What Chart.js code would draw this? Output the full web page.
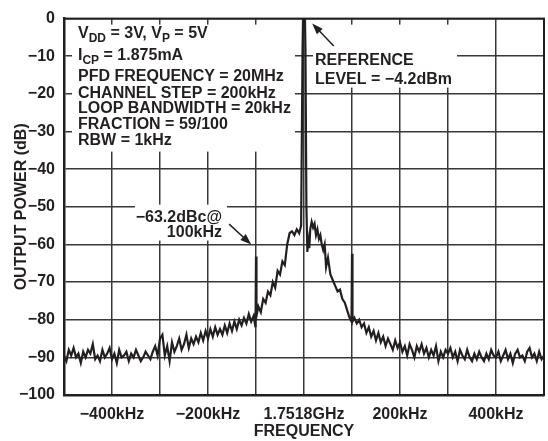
<!DOCTYPE html>
<html>
<head>
<meta charset="utf-8">
<script src="https://cdn.jsdelivr.net/npm/chart.js@4/dist/chart.umd.min.js"></script>
<style>
  html, body { margin: 0; padding: 0; background: #fff; }
  #wrap { width: 548px; height: 441px; }
</style>
</head>
<body>
<div id="wrap"><canvas id="myChart"></canvas></div>
<script>
// offset from carrier (kHz) and measured power relative to reference level (dB)
var freqKHz = [
  -500,-495,-490,-485,-480,-475,-470,-465,-460,-455,-450,-445,-440,-435,-430,-425,-420,-415,-410,-405,
  -400,-395,-390,-385,-380,-375,-370,-365,-360,-355,-350,-345,-340,-335,-330,-325,-320,-315,-310,-305,
  -300,-295,-290,-285,-280,-275,-270,-265,-260,-255,-250,-245,-240,-235,-230,-225,-220,-215,-210,-205,
  -200,-195,-190,-185,-180,-175,-170,-165,-160,-155,-150,-145,-140,-135,-130,-125,-120,-115,-110,-105,
  -101,-100,-99,-95,-90,-85,-80,-75,-70,-65,-60,-55,-50,-45,-40,-35,-30,-25,-20,-15,-10,-6,-3,-2,
  2,3,5,7,9,11,13,16,19,22,25,28,31,34,37,40,43,46,50,55,60,65,70,75,80,85,90,95,99,
  100,101,105,110,115,120,125,130,135,140,145,150,155,160,165,170,175,180,185,190,195,
  200,205,210,215,220,225,230,235,240,245,250,255,260,265,270,275,280,285,290,295,
  300,305,310,315,320,325,330,335,340,345,350,355,360,365,370,375,380,385,390,395,
  400,405,410,415,420,425,430,435,440,445,450,455,460,465,470,475,480,485,490,495,500
];
var powerDb = [
  -89.5,-91,-88,-89.5,-87.5,-90,-89,-91.5,-88.5,-90,-88,-89,-86.5,-90.5,-89.5,-91,-88,-90,-89,-87.5,
  -90.5,-89,-91.5,-88,-90,-89.5,-88.5,-91,-89,-90,-88,-89.5,-91,-90,-88.5,-89.5,-90.5,-88.5,-87,-89.5,
  -85,-84,-89.5,-87,-91,-86,-88.5,-87,-85,-88,-86.5,-84,-87.5,-85,-86.5,-84.5,-86,-83.5,-85.5,-83,
  -85,-82.5,-84.5,-82,-84,-82.5,-84,-81.5,-83.5,-81,-83,-80.5,-82.5,-80,-81.5,-79.5,-81,-78.5,-80.5,-79,
  -82,-63.2,-79,-76.5,-78,-74.5,-75.5,-72.5,-73.5,-70,-71.5,-67,-68,-64.5,-65.5,-60,-57,-56.5,-57.5,-56,-57,-55,-8,0,
  0,-8,-50,-62,-59,-61,-56,-54,-55.5,-54.5,-57.5,-56,-58.5,-57.5,-60,-61.5,-60,-66,-63.5,-68,-69.5,-71,-72.5,-72,-74.5,-75.5,-77.5,-79.5,-80.5,
  -62.5,-80.5,-79.5,-81,-80,-82,-81,-83.5,-82,-84.5,-83,-85.5,-83.5,-86,-84.5,-87,-85,-86.5,-88,-85.5,-87.5,
  -86,-88.5,-87,-89.5,-86.5,-88,-90,-87,-88.5,-86.5,-89,-87.5,-90,-88,-89.5,-87,-91,-88.5,-90,-88,
  -89,-87.5,-90,-88.5,-91,-88,-89.5,-90.5,-88,-90,-91,-89,-90.5,-88.5,-90,-91,-89,-90.5,-88,-89.5,
  -90,-88.5,-91,-89.5,-88,-90.5,-89,-91.5,-89,-88,-90,-89.5,-91,-88.5,-87.5,-90,-89,-91,-88.5,-90.5,-89.5
];

var xTickLabels = { '-400': '\u2212400kHz', '-200': '\u2212200kHz', '0': '1.7518GHz', '200': '200kHz', '400': '400kHz' };
var yTicks = [0, -10, -20, -30, -40, -50, -60, -70, -80, -90, -100];

// settings block, each line split into runs so subscripts can be drawn
var settingsLines = [
  [['V'], ['DD', 1], [' = 3V, V'], ['P', 1], [' = 5V']],
  [['I'], ['CP', 1], [' = 1.875mA']],
  [['PFD FREQUENCY = 20MHz']],
  [['CHANNEL STEP = 200kHz']],
  [['LOOP BANDWIDTH = 20kHz']],
  [['FRACTION = 59/100']],
  [['RBW = 1kHz']]
];
var refLabel = ['REFERENCE', 'LEVEL = \u22124.2dBm'];
var spurLabel = ['\u221263.2dBc@', '100kHz'];

// arrows in axis units: [fromKHz, fromDb, toKHz, toDb]
var refArrow = [62, -7.3, 17, -1.3];
var spurArrow = [-156, -54.6, -110, -60];

var ink = '#231f20';
var fontFam = '"Liberation Sans", Arial, Helvetica, sans-serif';

function arrow(ctx, x0, y0, x1, y1) {
  var a = Math.atan2(y1 - y0, x1 - x0);
  var len = 11, half = 4;
  ctx.beginPath();
  ctx.moveTo(x0, y0);
  ctx.lineTo(x1 - Math.cos(a) * len * 0.8, y1 - Math.sin(a) * len * 0.8);
  ctx.stroke();
  ctx.beginPath();
  ctx.moveTo(x1, y1);
  ctx.lineTo(x1 - Math.cos(a) * len + Math.sin(a) * half, y1 - Math.sin(a) * len - Math.cos(a) * half);
  ctx.lineTo(x1 - Math.cos(a) * len - Math.sin(a) * half, y1 - Math.sin(a) * len + Math.cos(a) * half);
  ctx.closePath();
  ctx.fill();
}

var notesPlugin = {
  id: 'notes',
  beforeDatasetsDraw: function(chart) {
    var ctx = chart.ctx, a = chart.chartArea;
    ctx.save();
    ctx.fillStyle = '#fff';
    // blank panels behind the text blocks
    ctx.fillRect(a.left + 8, a.top + 6, 223, 127);
    ctx.fillRect(a.left + 249, a.top + 6, 144, 63);
    ctx.fillRect(a.left + 71, a.top + 186, 92, 36);
    ctx.restore();
  },
  afterDatasetsDraw: function(chart) {
    var ctx = chart.ctx, a = chart.chartArea;
    var xs = chart.scales.x, ys = chart.scales.y;
    ctx.save();
    ctx.fillStyle = ink;
    ctx.strokeStyle = ink;
    ctx.textBaseline = 'alphabetic';
    var baselines = [19, 41, 62, 79, 94, 110, 126];
    settingsLines.forEach(function(runs, i) {
      var x = a.left + 14;
      runs.forEach(function(r) {
        ctx.font = 'bold ' + (r[1] ? 12 : 16) + 'px ' + fontFam;
        ctx.textAlign = 'left';
        ctx.fillText(r[0], x, a.top + baselines[i] + (r[1] ? 4 : 0));
        x += ctx.measureText(r[0]).width;
      });
    });
    ctx.font = 'bold 16px ' + fontFam;
    ctx.textAlign = 'left';
    ctx.fillText(refLabel[0], a.left + 251, a.top + 46);
    ctx.fillText(refLabel[1], a.left + 251, a.top + 65);
    ctx.textAlign = 'right';
    ctx.fillText(spurLabel[0], a.left + 158, a.top + 203);
    ctx.fillText(spurLabel[1], a.left + 158, a.top + 218);
    ctx.lineWidth = 1.5;
    arrow(ctx, xs.getPixelForValue(refArrow[0]), ys.getPixelForValue(refArrow[1]),
      xs.getPixelForValue(refArrow[2]), ys.getPixelForValue(refArrow[3]));
    arrow(ctx, xs.getPixelForValue(spurArrow[0]), ys.getPixelForValue(spurArrow[1]),
      xs.getPixelForValue(spurArrow[2]), ys.getPixelForValue(spurArrow[3]));
    ctx.restore();
  }
};

var points = freqKHz.map(function(f, i) { return { x: f, y: powerDb[i] }; });

Chart.defaults.font.family = fontFam;
Chart.defaults.font.weight = 'bold';
Chart.defaults.color = ink;

new Chart(document.getElementById('myChart'), {
  type: 'line',
  data: {
    datasets: [{
      data: points,
      borderColor: ink,
      borderWidth: 2.2,
      pointRadius: 0,
      tension: 0
    }]
  },
  options: {
    responsive: true,
    maintainAspectRatio: false,
    animation: false,
    events: [],
    layout: { padding: { top: 14, right: 4, left: 0, bottom: 0 } },
    plugins: { legend: { display: false }, tooltip: { enabled: false } },
    scales: {
      x: {
        type: 'linear',
        min: -500,
        max: 500,
        afterFit: function(s) { s.height = 46; s.paddingLeft = 0; s.paddingRight = 0; },
        afterBuildTicks: function(s) {
          s.ticks = [];
          for (var v = -500; v <= 500; v += 100) s.ticks.push({ value: v });
        },
        grid: { color: '#383838', lineWidth: 1.5, drawTicks: false },
        border: { color: ink, width: 2.5 },
        ticks: {
          autoSkip: false,
          maxRotation: 0,
          padding: 10,
          font: { size: 16, weight: 'bold' },
          callback: function(v) { return xTickLabels[String(v)] || ''; }
        },
        title: { display: true, text: 'FREQUENCY', font: { size: 16, weight: 'bold' }, padding: { top: 0, bottom: 0 } }
      },
      y: {
        min: -100,
        max: 0,
        afterFit: function(s) { s.width = 64; },
        afterBuildTicks: function(s) {
          s.ticks = yTicks.map(function(v) { return { value: v }; });
        },
        grid: { color: '#383838', lineWidth: 1.5, drawTicks: false },
        border: { color: ink, width: 2.5 },
        ticks: {
          padding: 9,
          font: { size: 16, weight: 'bold' },
          callback: function(v) { return v === 0 ? '0' : '\u2212' + Math.abs(v); }
        },
        title: { display: true, text: 'OUTPUT POWER (dB)', font: { size: 16, weight: 'bold' }, padding: { top: 12, bottom: 0 } }
      }
    }
  },
  plugins: [notesPlugin, {
    id: 'frame',
    afterDraw: function(chart) {
      var a = chart.chartArea, ctx = chart.ctx;
      ctx.save();
      ctx.strokeStyle = ink;
      ctx.lineWidth = 2;
      ctx.strokeRect(a.left, a.top, a.right - a.left, a.bottom - a.top);
      ctx.restore();
    }
  }]
});
</script>
</body>
</html>
